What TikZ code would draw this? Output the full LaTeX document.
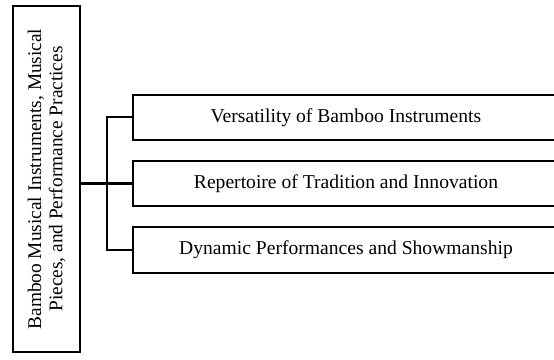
\documentclass[tikz,border=0pt]{standalone}
\usepackage{fontspec}
\setmainfont{Liberation Serif}
\begin{document}
\begin{tikzpicture}[x=0.75pt,y=0.75pt,
  rootbox/.style={draw, line width=1.4pt, rotate=90, align=center,
    minimum width=260pt, minimum height=50pt, inner sep=0pt,
    font=\fontsize{14.5}{16}\selectfont},
  itembox/.style={draw, line width=1.4pt, minimum width=320pt,
    minimum height=34pt, inner sep=0pt, font=\fontsize{14.7}{16}\selectfont},
  branchline/.style={draw, line width=1.5pt}]
\useasboundingbox (0,0) rectangle (554,-360);
\node[rootbox] (root) at (46.5,-179) {Bamboo Musical Instruments, Musical\\Pieces, and Performance Practices};
\node[itembox] (vers) at (346,-117.5) {Versatility of Bamboo Instruments};
\node[itembox] (rep) at (346,-183.5) {Repertoire of Tradition and Innovation};
\node[itembox] (dyn) at (346,-250) {Dynamic Performances and Showmanship};
\coordinate (fork) at (107,-183.5);

\path[branchline] (root.south |- fork) -- (fork);
\path[branchline] (fork) -- (rep.west);
\path[branchline] (vers.west) -| (fork) |- (dyn.west);
\end{tikzpicture}
\end{document}
